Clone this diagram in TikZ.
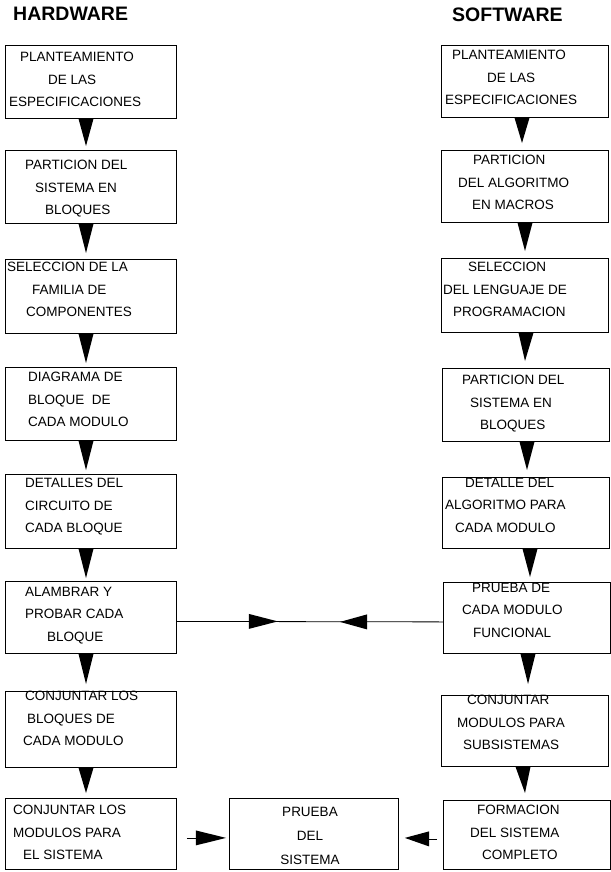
\documentclass[tikz,border=0pt]{standalone}
\usepackage{fontspec}
\setmainfont{Liberation Sans}
\usetikzlibrary{calc}
\begin{document}
\begin{tikzpicture}[x=1pt,y=-1pt,
  box/.style={draw=black,line width=0.8pt,inner sep=0pt,anchor=north west},
  lbox/.style={box,minimum width=171pt},
  rbox/.style={box,minimum width=167pt},
  txt/.style={anchor=north west,inner sep=0pt,align=left,font=\fontsize{13.5pt}{22.5pt}\selectfont},
  hdr/.style={anchor=north west,inner sep=0pt,font=\bfseries\fontsize{19.5pt}{20pt}\selectfont},
  tri/.style={fill=black},
  conn/.style={draw=black,line width=0.8pt}]
\useasboundingbox (0,0) rectangle (610,872);
% headers
\node[hdr] (hw) at (13,7) {HARDWARE};
\node[hdr] (sw) at (452,8) {SOFTWARE};
% left boxes
\node[lbox,minimum height=73pt] (h1) at (5,45) {};
\node[lbox,minimum height=73pt] (h2) at (5,150) {};
\node[lbox,minimum height=74pt] (h3) at (5,259) {};
\node[lbox,minimum height=73pt] (h4) at (5,367) {};
\node[lbox,minimum height=74pt] (h5) at (5,474) {};
\node[lbox,minimum height=72pt] (h6) at (5,581) {};
\node[lbox,minimum height=76pt] (h7) at (5,691) {};
\node[lbox,minimum height=71pt] (h8) at (5,798) {};
% right boxes
\node[rbox,minimum height=72pt] (s1) at (441,45) {};
\node[rbox,minimum height=72pt] (s2) at (441,150) {};
\node[rbox,minimum height=74pt] (s3) at (441,258) {};
\node[rbox,minimum height=73pt] (s4) at (442,368) {};
\node[rbox,minimum height=71pt] (s5) at (442,477) {};
\node[rbox,minimum height=71pt] (s6) at (443,582) {};
\node[rbox,minimum height=71pt] (s7) at (441,695) {};
\node[rbox,minimum height=69pt] (s8) at (443,800) {};
% middle box
\node[box,minimum width=169pt,minimum height=71pt] (m) at (229,798) {};
% left texts
\node[txt] (th1) at (9,52) {\hspace*{11pt}PLANTEAMIENTO\\\hspace*{39pt}DE LAS\\ESPECIFICACIONES};
\node[txt] (th2) at (25,160) {PARTICION DEL\\\hspace*{10pt}SISTEMA EN\\\hspace*{20pt}BLOQUES};
\node[txt] (th3) at (7,262) {SELECCION DE LA\\\hspace*{25pt}FAMILIA DE\\\hspace*{19pt}COMPONENTES};
\node[txt] (th4) at (28,372) {DIAGRAMA DE\\BLOQUE\ \ DE\\CADA MODULO};
\node[txt] (th5) at (25,478) {DETALLES DEL\\CIRCUITO DE\\CADA BLOQUE};
\node[txt] (th6) at (25,587) {ALAMBRAR Y\\PROBAR CADA\\\hspace*{22pt}BLOQUE};
\node[txt] (th7) at (23,691) {\hspace*{2pt}CONJUNTAR LOS\\\hspace*{4pt}BLOQUES DE\\CADA MODULO};
\node[txt] (th8) at (13,805) {CONJUNTAR LOS\\MODULOS PARA\\\hspace*{10pt}EL SISTEMA};
% right texts
\node[txt] (ts1) at (445,50) {\hspace*{7pt}PLANTEAMIENTO\\\hspace*{42pt}DE LAS\\ESPECIFICACIONES};
\node[txt] (ts2) at (458,155) {\hspace*{15pt}PARTICION\\DEL ALGORITMO\\\hspace*{14pt}EN MACROS};
\node[txt] (ts3) at (443,262) {\hspace*{25pt}SELECCION\\DEL LENGUAJE DE\\\hspace*{10pt}PROGRAMACION};
\node[txt] (ts4) at (462,375) {PARTICION DEL\\\hspace*{8pt}SISTEMA EN\\\hspace*{18pt}BLOQUES};
\node[txt] (ts5) at (445,478) {\hspace*{20pt}DETALLE DEL\\ALGORITMO PARA\\\hspace*{10pt}CADA MODULO};
\node[txt] (ts6) at (462,583) {\hspace*{10pt}PRUEBA DE\\CADA MODULO\\\hspace*{11pt}FUNCIONAL};
\node[txt] (ts7) at (457,695) {\hspace*{10pt}CONJUNTAR\\MODULOS PARA\\\hspace*{6pt}SUBSISTEMAS};
\node[txt] (ts8) at (470,805) {\hspace*{7pt}FORMACION\\DEL SISTEMA\\\hspace*{12pt}COMPLETO};
% middle text
\node[anchor=north,inner sep=0pt,align=center,font=\fontsize{13.5pt}{24pt}\selectfont] (tm) at (310,807) {PRUEBA\\DEL\\SISTEMA};
% left vertical arrows (x = 86)
\fill[tri] ($(h1.south west)+(73.5,0)$) -- ++(15,0) -- ($(h2.north west)+(81,-4)$) -- cycle;
\fill[tri] ($(h2.south west)+(73.5,0)$) -- ++(15,0) -- ($(h3.north west)+(81,-6)$) -- cycle;
\fill[tri] ($(h3.south west)+(73.5,0)$) -- ++(15,0) -- ($(h4.north west)+(81,-4)$) -- cycle;
\fill[tri] ($(h4.south west)+(73.5,0)$) -- ++(15,0) -- ($(h5.north west)+(81,-4)$) -- cycle;
\fill[tri] ($(h5.south west)+(73.5,0)$) -- ++(15,0) -- ($(h6.north west)+(81,-3)$) -- cycle;
\fill[tri] ($(h6.south west)+(73.5,0)$) -- ++(15,0) -- ($(h7.north west)+(81,-7)$) -- cycle;
\fill[tri] ($(h7.south west)+(73.5,0)$) -- ++(15,0) -- ($(h8.north west)+(81,-5)$) -- cycle;
% right vertical arrows
\fill[tri] ($(s1.south west)+(73.5,0)$) -- ++(15,0) -- ($(s2.north west)+(81,-7)$) -- cycle;
\fill[tri] ($(s2.south west)+(76.5,0)$) -- ++(15,0) -- ($(s3.north west)+(84,-7)$) -- cycle;
\fill[tri] ($(s3.south west)+(77.5,0)$) -- ++(15,0) -- ($(s4.north west)+(83,-7)$) -- cycle;
\fill[tri] ($(s4.south west)+(77.5,0)$) -- ++(15,0) -- ($(s5.north west)+(85,-7)$) -- cycle;
\fill[tri] ($(s5.south west)+(80.5,0)$) -- ++(15,0) -- ($(s6.north west)+(87,-5)$) -- cycle;
\fill[tri] ($(s6.south west)+(77.5,0)$) -- ++(15,0) -- ($(s7.north west)+(87,-11)$) -- cycle;
\fill[tri] ($(s7.south west)+(74.5,0)$) -- ++(15,0) -- ($(s8.north west)+(82,-7)$) -- cycle;
% horizontal connector between row 6 boxes
\coordinate (ha) at ($(h6.east)+(0,4)$);
\coordinate (sa) at ($(s6.west)+(0,4)$);
\draw[conn] (ha) -- (sa);
\fill[tri] ($(ha)+(72,-7.5)$) -- ($(ha)+(72,7.5)$) -- ($(ha)+(101,0)$) -- cycle;
\fill[tri] ($(sa)+(-76,-7.5)$) -- ($(sa)+(-76,7.5)$) -- ($(sa)+(-103,0)$) -- cycle;
% bottom row arrows into the middle box
\coordinate (la) at ($(h8.east)+(10,4)$);
\coordinate (ra) at ($(s8.west)+(-6,4)$);
\draw[conn] (la) -- ++(9,0);
\fill[tri] ($(la)+(9,-7.5)$) -- ($(la)+(9,7.5)$) -- ($(m.west)+(-3,4)$) -- cycle;
\draw[conn] (ra) -- ++(-8,0);
\fill[tri] ($(ra)+(-8,-7.5)$) -- ($(ra)+(-8,7.5)$) -- ($(m.east)+(6,4)$) -- cycle;
\end{tikzpicture}
\end{document}
